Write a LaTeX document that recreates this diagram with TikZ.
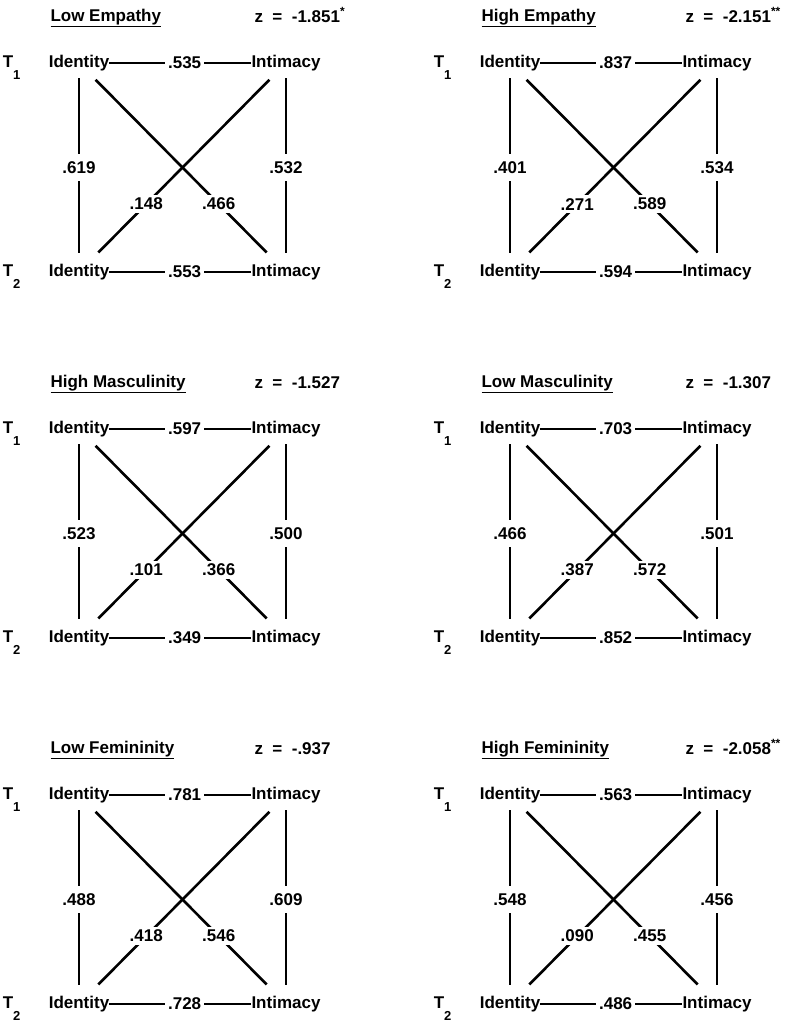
\documentclass[tikz,border=0pt]{standalone}
\usepackage{fontspec}
\setmainfont{Liberation Sans}
\usetikzlibrary{positioning}
\newcommand{\tsub}[1]{\raisebox{-1.4ex}{\fontsize{13}{13}\selectfont #1}}

\begin{document}
\begin{tikzpicture}[
  x=1pt, y=-1pt,
  every node/.style={font=\fontsize{17}{20}\selectfont\bfseries},
  var/.style={inner sep=0pt,text height=12pt,text depth=4pt},
  tlabel/.style={inner sep=0pt},
  coef/.style={fill=white,inner xsep=3pt,inner ysep=3pt},
  vcoef/.style={fill=white,inner xsep=2pt,inner ysep=7pt},
  hline/.style={line width=1.7pt},
  vline/.style={line width=2pt,shorten <=7pt,shorten >=11pt},
  dline/.style={line width=2.6pt,shorten <=12pt,shorten >=16pt}
]
\useasboundingbox (0,0) rectangle (805,1034);
\foreach \n/\px/\py/\ttl/\zv/\hT/\hB/\vL/\vR/\dA/\dB in {
  1/79/63/{Low Empathy}/{-1.851\textsuperscript{*}}/.535/.553/.619/.532/.466/.148,
  2/510/63/{High Empathy}/{-2.151\textsuperscript{**}}/.837/.594/.401/.534/.589/.271,
  3/79/429/{High Masculinity}/{-1.527}/.597/.349/.523/.500/.366/.101,
  4/510/429/{Low Masculinity}/{-1.307}/.703/.852/.466/.501/.572/.387,
  5/79/795/{Low Femininity}/{-.937}/.781/.728/.488/.609/.546/.418,
  6/510/795/{High Femininity}/{-2.058\textsuperscript{**}}/.563/.486/.548/.456/.455/.090}{
  \node[var] (id1-\n) at (\px,\py) {Identity};
  \node[var] (in1-\n) at (\px+207,\py) {Intimacy};
  \node[var] (id2-\n) at (\px,\py+209) {Identity};
  \node[var] (in2-\n) at (\px+207,\py+209) {Intimacy};
  \node[tlabel,base left=28pt of id1-\n] (t1-\n) {T\tsub{1}};
  \node[tlabel,base left=28pt of id2-\n] (t2-\n) {T\tsub{2}};
  \node[anchor=base west] (ttl-\n) at (\px-32,\py-42) {\underline{\ttl}};
  \node[anchor=base west] (z-\n) at (\px+172,\py-41) {z\ \ =\ \ \zv};
  \draw[hline] (id1-\n) -- node[coef,pos=0.53] {\hT} (in1-\n);
  \draw[hline] (id2-\n) -- node[coef,pos=0.53] {\hB} (in2-\n);
  \draw[vline] (id1-\n) -- node[vcoef] {\vL} (id2-\n);
  \draw[vline] (in1-\n) -- node[vcoef] {\vR} (in2-\n);
  \draw[dline] (id1-\n) -- node[coef,pos=0.69] {\dA} (in2-\n);
  \draw[dline] (in1-\n) -- node[coef,pos=0.69] {\dB} (id2-\n);
}
\end{tikzpicture}
\end{document}
